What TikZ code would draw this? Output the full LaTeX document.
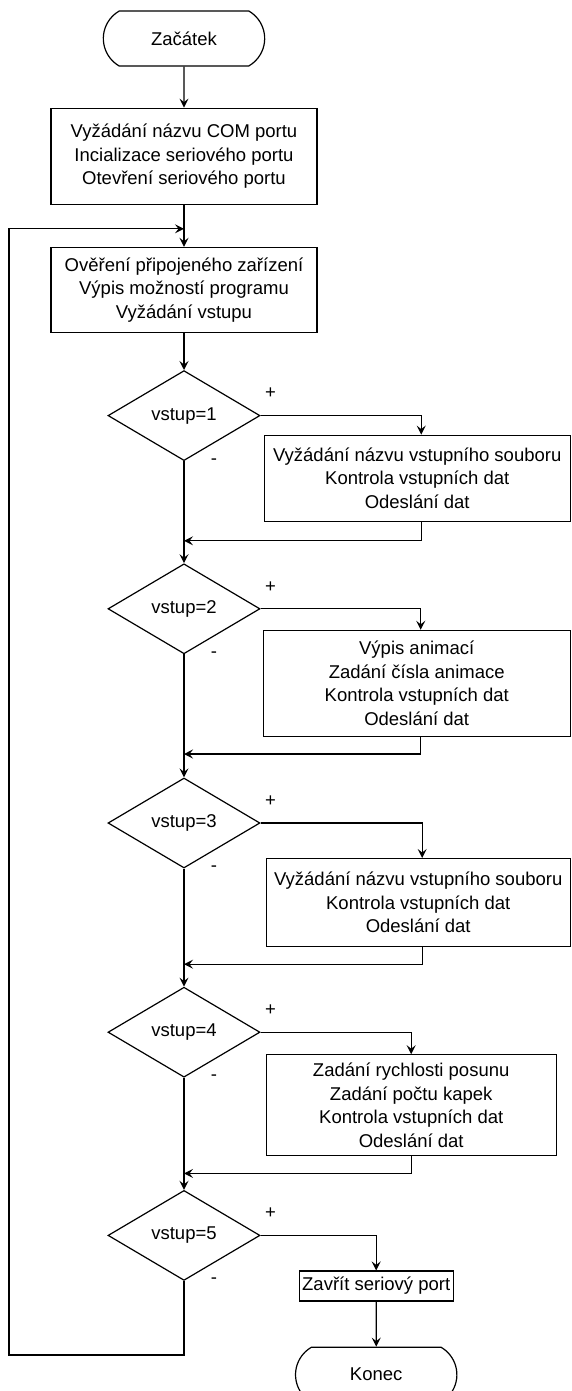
\documentclass[tikz,border=0pt]{standalone}
\usepackage{fontspec}
\setmainfont{Liberation Sans}
\usepackage{tikz}
\usetikzlibrary{arrows.meta, positioning, shapes.geometric, shapes.misc, calc}

\begin{document}
\begin{tikzpicture}[x=1pt, y=1pt, line width=1.2pt,
    every node/.style={font=\fontsize{18.5}{23.5}\selectfont},
    term/.style={draw, rounded rectangle, rounded rectangle arc length=120, minimum width=168pt, minimum height=55pt},
    procbox/.style={draw, rectangle, align=center, inner sep=3pt},
    decision/.style={draw, diamond, inner sep=0pt, minimum width=152pt, minimum height=90pt},
    arr/.style={-{Stealth[length=9pt, width=9pt, inset=3.5pt]}}]
  \useasboundingbox (0,0) rectangle (571,-1391);

  % main column
  \node[term] (start) at (184,-38.5) {Začátek};
  \node[procbox, minimum width=266pt, minimum height=96pt, below=41pt of start] (init) {
    Vyžádání názvu COM portu\\
    Incializace seriového portu\\
    Otevření seriového portu
  };
  \node[procbox, minimum width=266pt, minimum height=85pt, below=42pt of init] (check) {
    Ověření připojeného zařízení\\
    Výpis možností programu\\
    Vyžádání vstupu
  };
  \node[decision, below=37pt of check] (d1) {vstup=1};
  \node[decision, below=102pt of d1] (d2) {vstup=2};
  \node[decision, below=123pt of d2] (d3) {vstup=3};
  \node[decision, below=118pt of d3] (d4) {vstup=4};
  \node[decision, below=112pt of d4] (d5) {vstup=5};

  % branches
  \node[procbox, minimum width=306pt, minimum height=86pt, below right=19pt and 3pt of d1.east] (s1) {
    Vyžádání názvu vstupního souboru\\
    Kontrola vstupních dat\\
    Odeslání dat
  };
  \node[procbox, minimum width=307pt, minimum height=106pt, below right=21pt and 2pt of d2.east] (s2) {
    Výpis animací\\
    Zadání čísla animace\\
    Kontrola vstupních dat\\
    Odeslání dat
  };
  \node[procbox, minimum width=304pt, minimum height=88pt, below right=35pt and 5pt of d3.east] (s3) {
    Vyžádání názvu vstupního souboru\\
    Kontrola vstupních dat\\
    Odeslání dat
  };
  \node[procbox, minimum width=290pt, minimum height=101pt, below right=22pt and 5pt of d4.east] (s4) {
    Zadání rychlosti posunu\\
    Zadání počtu kapek\\
    Kontrola vstupních dat\\
    Odeslání dat
  };
  \node[procbox, inner sep=2pt, minimum width=154pt, minimum height=30pt, below right=35pt and 38pt of d5.east] (close) {Zavřít seriový port};
  \node[term, below=45pt of close] (end) {Konec};

  % + / - labels
  \foreach \d in {d1,d2,d3,d4,d5} {
    \node (plus\d) at ([xshift=10pt, yshift=22pt]\d.east) {+};
    \node (minus\d) at ([xshift=30pt]\d.south) {-};
  }

  \coordinate[below=24pt of init.south] (jl);
  \coordinate[below=19pt of s1.south] (b1);
  \coordinate[below=17pt of s2.south] (b2);
  \coordinate[below=17pt of s3.south] (b3);
  \coordinate[below=17pt of s4.south] (b4);

  \draw[arr] (start) -- (init);
  \draw[arr] (init) -- (check);
  \draw[arr] (check) -- (d1);
  \draw[arr] (d1) -- (d2);
  \draw[arr] (d2) -- (d3);
  \draw[arr] (d3) -- (d4);
  \draw[arr] (d4) -- (d5);

  \draw[arr] (d1.east) -| ([xshift=4pt]s1.north);
  \draw[arr] (d2.east) -| ([xshift=4pt]s2.north);
  \draw[arr] (d3.east) -| ([xshift=4pt]s3.north);
  \draw[arr] (d4.east) -| (s4.north);
  \draw[arr] (d5.east) -| (close.north);
  \draw[arr] (close) -- (end);

  \draw[arr] ([xshift=4pt]s1.south) |- (b1 -| d1.south);
  \draw[arr] ([xshift=4pt]s2.south) |- (b2 -| d2.south);
  \draw[arr] ([xshift=4pt]s3.south) |- (b3 -| d3.south);
  \draw[arr] (s4.south) -- (b4) -- (b4 -| d4.south);

  % back to the menu
  \draw[arr] (d5.south) -- ++(0,-74) -- ++(-175,0) |- (jl);
\end{tikzpicture}
\end{document}
